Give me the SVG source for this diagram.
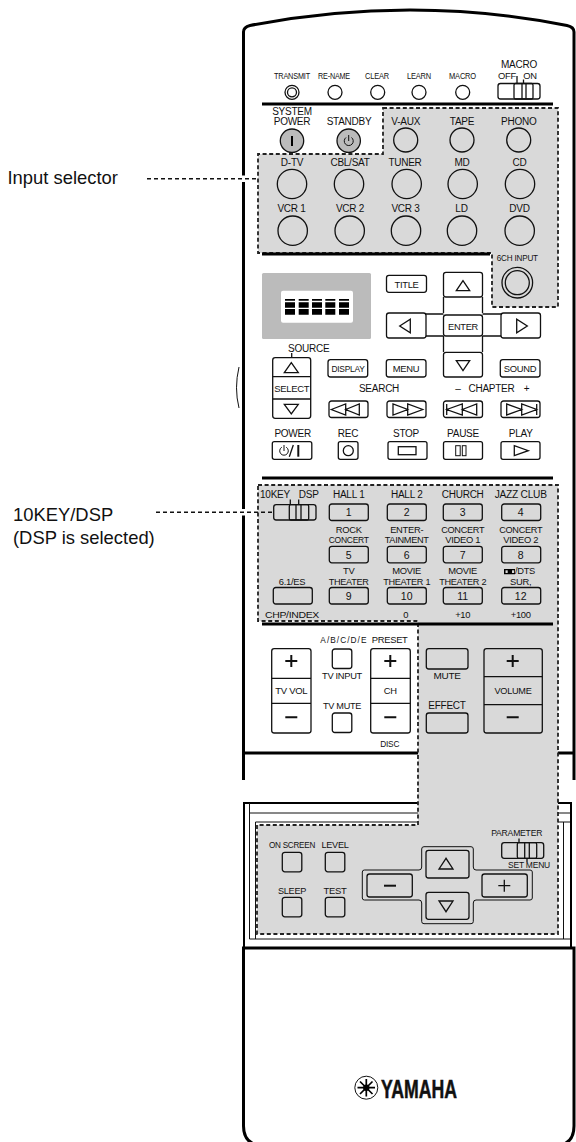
<svg xmlns="http://www.w3.org/2000/svg" width="576" height="1142" viewBox="0 0 576 1142">
<style>
text{font-family:"Liberation Sans",Arial,sans-serif;fill:#111;text-anchor:middle}
.a{font-size:10px;letter-spacing:-.25px}.b{font-size:9.4px;letter-spacing:-.3px}.c{font-size:8.3px;letter-spacing:-.2px}
.n{font-size:10.5px}
.l{font-size:18.4px;text-anchor:start}
.s{fill:none;stroke:#111;stroke-width:1.3}
.k{fill:none;stroke:#000;stroke-width:3}
.f{fill:none;stroke:#111;stroke-width:1}
.z{fill:#d9d9d9;stroke:#222;stroke-width:1.8;stroke-dasharray:4 2.600}
.d{fill:none;stroke:#111;stroke-width:1.500;stroke-dasharray:4 3}
.w{fill:#fff;stroke:none}
.h{fill:none;stroke:#111;stroke-width:2}
</style>
<defs>
<rect id="b39" class="s" width="39" height="16.500" rx="2.500"/>
<rect id="q20" class="s" width="19.500" height="19.500" rx="2.500"/>
<circle id="c12" class="s" r="12"/>
<circle id="c15" class="s" r="14.700"/>
<circle id="c7" class="s" r="7"/>
</defs>

<g id="body-outline">
<path class="k" d="M243.500,780V32Q243.500,27 250,25.500Q330,10 410,10Q490,10 567,25.500Q574,27 574,32V780"/>
<path class="k" d="M243.500,753H418M558,753H574"/>
<path d="M238,367Q233,388 238,408" class="f" transform="translate(1,0)"/>
<path class="k" d="M243.500,948V1126Q243.500,1140 254,1144M574,948V1126Q574,1140 564,1144M242,948H575.500"/>
<path class="k" style="stroke-width:2" d="M244,948V803H418M558,803H571V948"/>
<path class="f" d="M249.500,803V939M255.500,822V939M563.500,822V939M249.500,813H418M558,813H570M255.500,822H418M558,822H570M249.500,939H570"/>
</g>

<g id="gray-regions">
<path id="input-selector-region" class="z" d="M383,108H558V307H492V253H258V154H383Z"/>
<path id="dsp-region" class="z" d="M258,485H558V934H257V825H418V621H258Z"/>
</g>

<g id="separators">
<path class="k" d="M262,104H553M262,254H490M262,478H553M262,624H553"/>
</g>

<g id="indicators">
<g id="transmit"><text class="c" x="292" y="79" textLength="36" lengthAdjust="spacingAndGlyphs">TRANSMIT</text><circle class="s" cx="292" cy="92.300" r="7"/><circle class="s" cx="292" cy="92.300" r="4.500"/></g>
<g id="re-name"><text class="c" x="334" y="79" textLength="32" lengthAdjust="spacingAndGlyphs">RE-NAME</text><use href="#c7" x="335" y="92.300"/></g>
<g id="clear"><text class="c" x="377" y="79" textLength="24" lengthAdjust="spacingAndGlyphs">CLEAR</text><use href="#c7" x="377.700" y="92.300"/></g>
<g id="learn"><text class="c" x="419" y="79" textLength="24" lengthAdjust="spacingAndGlyphs">LEARN</text><use href="#c7" x="419" y="92.300"/></g>
<g id="macro"><text class="c" x="462.500" y="79" textLength="27" lengthAdjust="spacingAndGlyphs">MACRO</text><use href="#c7" x="462.700" y="92.300"/></g>
<g id="macro-switch"><text class="a" x="519" y="68">MACRO</text><text class="b" x="507" y="79">OFF</text><text class="b" x="530" y="79">ON</text>
<rect class="s" x="498" y="83.500" width="42" height="15.500" rx="2.500"/><rect class="s" x="514" y="83.500" width="19" height="15.500" rx="1.500"/><path class="s" d="M522,83.500V99M526,83.500V99M517,76V83.500M523.500,79.500V83.500"/></g>
</g>

<g id="power-row">
<g id="system-power"><text class="a" x="292" y="115">SYSTEM</text><text class="a" x="292" y="125">POWER</text><circle cx="292" cy="140.700" r="11.700" fill="#bbb" stroke="#111" stroke-width="1.300"/><rect x="291" y="136" width="2" height="10" fill="#000"/></g>
<g id="standby"><text class="a" x="349" y="125">STANDBY</text><circle cx="348.700" cy="140.700" r="11.700" fill="#bbb" stroke="#111" stroke-width="1.300"/><path class="f" d="M346,137.500A4.500,4.500 0 1 0 351.500,137.500M348.700,135V141"/></g>
</g>

<g id="input-row-1">
<g id="v-aux"><text class="a" x="405.700" y="125">V-AUX</text><use href="#c12" x="405.700" y="140"/></g>
<g id="tape"><text class="a" x="462" y="125">TAPE</text><use href="#c12" x="462" y="140"/></g>
<g id="phono"><text class="a" x="518.700" y="125">PHONO</text><use href="#c12" x="518.700" y="140"/></g>
</g>
<g id="input-row-2">
<g id="d-tv"><text class="a" x="292" y="166">D-TV</text><use href="#c15" x="292" y="184"/></g>
<g id="cbl-sat"><text class="a" x="350" y="166">CBL/SAT</text><use href="#c15" x="349" y="184"/></g>
<g id="tuner"><text class="a" x="405" y="166">TUNER</text><use href="#c15" x="406.700" y="184"/></g>
<g id="md"><text class="a" x="462" y="166">MD</text><use href="#c15" x="462.700" y="184"/></g>
<g id="cd"><text class="a" x="519.500" y="166">CD</text><use href="#c15" x="520" y="184"/></g>
</g>
<g id="input-row-3">
<g id="vcr1"><text class="a" x="291.500" y="212">VCR 1</text><use href="#c15" x="292.700" y="230.700"/></g>
<g id="vcr2"><text class="a" x="350" y="212">VCR 2</text><use href="#c15" x="349.700" y="230.700"/></g>
<g id="vcr3"><text class="a" x="405.500" y="212">VCR 3</text><use href="#c15" x="406" y="230.700"/></g>
<g id="ld"><text class="a" x="461.500" y="212">LD</text><use href="#c15" x="462" y="230.700"/></g>
<g id="dvd"><text class="a" x="519.500" y="212">DVD</text><use href="#c15" x="519.700" y="230.700"/></g>
</g>
<g id="six-ch-input"><text class="c" x="517.300" y="261" textLength="41" lengthAdjust="spacingAndGlyphs">6CH INPUT</text><circle class="s" cx="517.300" cy="282.700" r="15.300"/><circle class="s" cx="517.300" cy="282.700" r="12"/></g>

<g id="display">
<rect x="262" y="273" width="109" height="66" rx="1.500" fill="#bbb"/>
<rect x="281" y="290.700" width="72" height="32" rx="2" fill="#fff"/>
<path fill="#000" d="M285,299h10v1.700h-10zM298.700,299h10v1.700h-10zM312,299h10v1.700h-10zM325.300,299h10v1.700h-10zM339,299h10v1.700h-10zM285,302.300h10v5.400h-10zM298.700,302.300h10v5.400h-10zM312,302.300h10v5.400h-10zM325.300,302.300h10v5.400h-10zM339,302.300h10v5.400h-10zM285,309h10v5.700h-10zM298.700,309h10v5.700h-10zM312,309h10v5.700h-10zM325.300,309h10v5.700h-10zM339,309h10v5.700h-10z"/>
</g>

<g id="title-btn"><rect class="s" x="386.500" y="275.300" width="40" height="17" rx="2.500"/><text class="b" x="406.500" y="287.500">TITLE</text></g>
<g id="cursor-pad">
<path class="s" d="M443.500,297V313M482.500,297V313M443.500,336V352M482.500,336V352M426,314H443.500M426,336H443.500M482.500,314H501M482.500,336H501"/>
<g id="cursor-up"><rect class="s" x="443.500" y="272.300" width="39" height="24.700" rx="2.500"/><path class="s" d="M463,280.700L456.300,290.700H469.700Z"/></g>
<g id="cursor-left"><rect class="s" x="386.500" y="313" width="39.500" height="25" rx="2.500"/><path class="s" d="M399.700,326L410.300,319.300V332.700Z"/></g>
<g id="cursor-right"><rect class="s" x="501" y="313" width="39.500" height="25" rx="2.500"/><path class="s" d="M516.700,319.300V332.700L527.300,326Z"/></g>
<g id="enter"><rect class="s" x="443.500" y="315" width="39" height="21" rx="2.500"/><text class="b" x="463" y="329.500" textLength="30" lengthAdjust="spacingAndGlyphs">ENTER</text></g>
<g id="cursor-down"><rect class="s" x="443.500" y="352.300" width="39" height="24.700" rx="2.500"/><path class="s" d="M456.300,360.700H469.700L463,370.700Z"/></g>
</g>

<g id="source-select">
<text class="a" x="308.700" y="352">SOURCE</text><path class="s" d="M291.700,353V358"/>
<rect class="s" x="272.700" y="357.700" width="38" height="60.600" rx="2.500"/>
<path class="s" d="M272.700,376.700H310.700M272.700,399H310.700M284.300,372.700H298.300L291.300,362.700ZM284.300,404.300H298.300L291.300,414Z"/>
<text class="b" x="291.700" y="392" textLength="35" lengthAdjust="spacingAndGlyphs">SELECT</text>
</g>
<g id="display-btn"><rect class="s" x="328" y="359.700" width="39.700" height="17.300" rx="2.500"/><text class="b" x="348" y="372" textLength="33" lengthAdjust="spacingAndGlyphs">DISPLAY</text></g>
<g id="menu-btn"><rect class="s" x="386.300" y="359.700" width="39.700" height="17.300" rx="2.500"/><text class="b" x="406" y="372">MENU</text></g>
<g id="sound-btn"><rect class="s" x="500.300" y="359.700" width="39.700" height="17.300" rx="2.500"/><text class="b" x="520" y="372">SOUND</text></g>

<g id="search-chapter">
<text class="a" x="379" y="392">SEARCH</text>
<text class="a" x="458" y="392">–</text><text class="a" x="491.500" y="392">CHAPTER</text><text class="a" x="526.500" y="392">+</text>
<g id="search-back"><use href="#b39" x="329" y="401"/><path class="s" d="M331.300,409.500L345.700,404V415ZM345.700,409.500L359.300,404V415Z"/></g>
<g id="search-fwd"><use href="#b39" x="387" y="401"/><path class="s" d="M393,404V415L407.700,409.500ZM407.700,404V415L422.700,409.500Z"/></g>
<g id="chapter-back"><use href="#b39" x="443.500" y="401"/><path class="s" d="M446.700,404V415M446.700,409.500L462.300,404V415ZM462.300,409.500L476.700,404V415Z"/></g>
<g id="chapter-fwd"><use href="#b39" x="501" y="401"/><path class="s" d="M506.700,404V415L521.700,409.500ZM521.700,404V415L536.700,409.500ZM536.700,404V415"/></g>
</g>

<g id="transport">
<g id="power-btn"><text class="a" x="292.700" y="437">POWER</text><rect class="s" x="272.300" y="441.700" width="39.500" height="17.600" rx="2"/><path class="f" d="M281.800,447.200A4.300,4.300 0 1 0 286.200,447.200M284,445V451"/><path class="s" d="M293.300,445L289.300,456.700"/><path class="h" d="M298.300,445V456.700"/></g>
<g id="rec-btn"><text class="a" x="348" y="437">REC</text><rect class="s" x="338.300" y="441.700" width="19.700" height="17.600" rx="2"/><circle class="s" cx="348.300" cy="450.700" r="5"/></g>
<g id="stop-btn"><text class="a" x="406" y="437">STOP</text><rect class="s" x="388" y="441.700" width="39" height="17.600" rx="2"/><rect class="s" x="398.300" y="446.700" width="17.700" height="8"/></g>
<g id="pause-btn"><text class="a" x="463" y="437">PAUSE</text><rect class="s" x="443.500" y="441.700" width="39" height="17.600" rx="2"/><rect class="f" x="455.700" y="445.700" width="4.500" height="10"/><rect class="f" x="462.300" y="445.700" width="3.700" height="10"/></g>
<g id="play-btn"><text class="a" x="520.700" y="437">PLAY</text><rect class="s" x="501" y="441.700" width="39" height="17.600" rx="2"/><path class="s" d="M514.300,445.700V455.700L528.300,450.700Z"/></g>
</g>

<g id="dsp-keys">
<g id="tenkey-switch"><text class="a" x="275" y="498">10KEY</text><text class="a" x="308.700" y="498">DSP</text>
<rect class="s" x="273.700" y="504.700" width="42.300" height="15.300" rx="2.500"/><rect class="s" x="289.300" y="504.700" width="19.400" height="15.300" rx="1.500"/><path class="s" d="M296,504.700V520M301,504.700V520M290.300,499.500V504.700M298.700,499.500V504.700"/></g>
<g id="key1"><text class="a" x="348.700" y="498">HALL 1</text><use href="#b39" x="329.300" y="504"/><text class="n" x="348.700" y="516">1</text></g>
<g id="key2"><text class="a" x="406.700" y="498">HALL 2</text><use href="#b39" x="387.300" y="504"/><text class="n" x="406.700" y="516">2</text></g>
<g id="key3"><text class="a" x="462.700" y="498">CHURCH</text><use href="#b39" x="443.300" y="504"/><text class="n" x="462.700" y="516">3</text></g>
<g id="key4"><text class="a" x="520.700" y="498" textLength="52" lengthAdjust="spacingAndGlyphs">JAZZ CLUB</text><use href="#b39" x="501.700" y="504"/><text class="n" x="520.700" y="516">4</text></g>

<g id="key5"><text class="b" x="348.700" y="533">ROCK</text><text class="b" x="348.700" y="543" textLength="40" lengthAdjust="spacingAndGlyphs">CONCERT</text><use href="#b39" x="329.300" y="546.300"/><text class="n" x="348.700" y="559">5</text></g>
<g id="key6"><text class="b" x="406.700" y="533">ENTER-</text><text class="b" x="406.700" y="543" textLength="44" lengthAdjust="spacingAndGlyphs">TAINMENT</text><use href="#b39" x="387.300" y="546.300"/><text class="n" x="406.700" y="559">6</text></g>
<g id="key7"><text class="b" x="462.700" y="533" textLength="43" lengthAdjust="spacingAndGlyphs">CONCERT</text><text class="b" x="462.700" y="543">VIDEO 1</text><use href="#b39" x="443.300" y="546.300"/><text class="n" x="462.700" y="559">7</text></g>
<g id="key8"><text class="b" x="520.700" y="533" textLength="43" lengthAdjust="spacingAndGlyphs">CONCERT</text><text class="b" x="520.700" y="543">VIDEO 2</text><use href="#b39" x="501.700" y="546.300"/><text class="n" x="520.700" y="559">8</text></g>

<g id="six-one-es"><text class="b" x="292" y="584.500">6.1/ES</text><use href="#b39" x="273.300" y="587.500"/><text class="b" x="292" y="617.500" textLength="54" lengthAdjust="spacingAndGlyphs">CHP/INDEX</text></g>
<g id="key9"><text class="b" x="348.700" y="574">TV</text><text class="b" x="348.700" y="584.500" textLength="40" lengthAdjust="spacingAndGlyphs">THEATER</text><use href="#b39" x="329.300" y="587.500"/><text class="n" x="348.700" y="600">9</text></g>
<g id="key10"><text class="b" x="406.700" y="574">MOVIE</text><text class="b" x="406.700" y="584.500" textLength="47" lengthAdjust="spacingAndGlyphs">THEATER 1</text><use href="#b39" x="387.300" y="587.500"/><text class="n" x="406.700" y="600">10</text><text class="b" x="405.700" y="617.500">0</text></g>
<g id="key11"><text class="b" x="462.700" y="574">MOVIE</text><text class="b" x="462.700" y="584.500" textLength="47" lengthAdjust="spacingAndGlyphs">THEATER 2</text><use href="#b39" x="443.300" y="587.500"/><text class="n" x="462.700" y="600">11</text><text class="b" x="462.700" y="617.500">+10</text></g>
<g id="key12"><path d="M504,569h5.500v5.300h-5.500zM509.500,569h5.500v5.300h-5.500z" fill="#000"/><rect x="505.500" y="570.300" width="2.200" height="2.700" fill="#d9d9d9"/><rect x="512" y="570.300" width="2.200" height="2.700" fill="#d9d9d9"/><text class="b" x="525" y="574" textLength="20" lengthAdjust="spacingAndGlyphs">/DTS</text><text class="b" x="520.700" y="584.500">SUR,</text><use href="#b39" x="501.700" y="587.500"/><text class="n" x="520.700" y="600">12</text><text class="b" x="520.700" y="617.500">+100</text></g>
</g>

<g id="tv-controls">
<text class="c" x="343.300" y="642.700" textLength="46" lengthAdjust="spacing">A/B/C/D/E</text>
<text class="b" x="389.700" y="642.700">PRESET</text>
<g id="tv-vol"><rect class="s" x="271.700" y="648.700" width="39.300" height="84.300" rx="2.500"/><path class="s" d="M271.700,678.300H311M271.700,703.300H311"/><path class="h" d="M285.300,661H297.300M291.300,655V667M285.300,717.300H297.300"/><text class="b" x="291.300" y="694" textLength="32" lengthAdjust="spacingAndGlyphs">TV VOL</text></g>
<g id="tv-input"><use href="#q20" x="332.300" y="649"/><text class="b" x="342" y="679" textLength="40" lengthAdjust="spacingAndGlyphs">TV INPUT</text></g>
<g id="tv-mute"><text class="b" x="342" y="708.700" textLength="38" lengthAdjust="spacingAndGlyphs">TV MUTE</text><use href="#q20" x="332.300" y="713"/></g>
<g id="ch"><rect class="s" x="370.700" y="648.700" width="39.600" height="84.300" rx="2.500"/><path class="s" d="M370.700,678.300H410.300M370.700,703.300H410.300"/><path class="h" d="M384.300,661H396.300M390.300,655V667M384.300,717.300H396.300"/><text class="b" x="390.300" y="694">CH</text><text class="c" x="389.700" y="747">DISC</text></g>
<g id="mute"><rect class="s" x="426.300" y="648.700" width="41.700" height="20.300" rx="2.500"/><text class="b" x="447" y="679" textLength="27" lengthAdjust="spacingAndGlyphs">MUTE</text></g>
<g id="effect"><text class="a" x="447" y="708.700">EFFECT</text><rect class="s" x="426.300" y="713" width="41.700" height="20" rx="2.500"/></g>
<g id="volume"><rect class="s" x="484" y="648.700" width="58.300" height="84.300" rx="2.500"/><path class="s" d="M484,676.700H542.300M484,704.700H542.300"/><path class="h" d="M506.700,661H518.700M512.700,655V667M506.700,717.300H518.700"/><text class="b" x="513" y="694" textLength="37" lengthAdjust="spacingAndGlyphs">VOLUME</text></g>
</g>

<g id="panel-controls">
<g id="on-screen"><text class="b" x="292" y="848" textLength="46" lengthAdjust="spacingAndGlyphs">ON SCREEN</text><use href="#q20" x="282.300" y="852.300"/></g>
<g id="level"><text class="b" x="335" y="848" textLength="27" lengthAdjust="spacingAndGlyphs">LEVEL</text><use href="#q20" x="325.300" y="852.300"/></g>
<g id="sleep"><text class="b" x="292" y="894" textLength="28" lengthAdjust="spacingAndGlyphs">SLEEP</text><use href="#q20" x="282.300" y="897.300"/></g>
<g id="test"><text class="b" x="335" y="894" textLength="23" lengthAdjust="spacingAndGlyphs">TEST</text><use href="#q20" x="325.300" y="897.300"/></g>
<g id="parameter-pad">
<path class="f" d="M424,846.700H471Q473.300,846.700 473.300,849V867Q473.300,870 476,870H530Q532.300,870 532.300,872V898Q532.300,900 530,900H476Q473.300,900 473.300,903V921.500Q473.300,923.700 471,923.700H424Q421.700,923.700 421.700,921.500V903Q421.700,900 419,900H364.500Q362.300,900 362.300,898V872Q362.300,870 364.500,870H419Q421.700,870 421.700,867V849Q421.700,846.700 424,846.700Z"/>
<g id="param-up"><rect class="s" x="426" y="850.300" width="43" height="27.700" rx="2.500"/><path class="s" d="M446,858.300L439,869H453Z"/></g>
<g id="param-down"><rect class="s" x="426" y="892.300" width="43" height="27" rx="2.500"/><path class="s" d="M439,901H453L446,911.700Z"/></g>
<g id="param-minus"><rect class="s" x="367" y="874" width="45.300" height="23" rx="2.500"/><path class="h" d="M384,885.700H396"/></g>
<g id="param-plus"><rect class="s" x="482" y="874" width="45.300" height="23" rx="2.500"/><path class="s" d="M498.300,885.700H510.300M504.300,879.700V891.700"/></g>
</g>
<g id="parameter-switch"><text class="c" x="516.700" y="835.700" textLength="51" lengthAdjust="spacingAndGlyphs">PARAMETER</text><text class="c" x="529" y="868.300" textLength="42" lengthAdjust="spacingAndGlyphs">SET MENU</text>
<rect class="s" x="501.700" y="842.700" width="42" height="15.600" rx="2.500"/><rect class="s" x="517.300" y="842.700" width="19.400" height="15.600" rx="1.500"/><path class="s" d="M524.700,842.700V858.300M529.300,842.700V858.300M519,838.500V842.700M527,858.300V862"/></g>
</g>

<g id="logo">
<circle cx="366.300" cy="1087.700" r="11.500" fill="none" stroke="#111" stroke-width="1"/>
<path stroke="#000" stroke-width="1.700" fill="none" d="M366.300,1079V1096.500M357.500,1087.700H375M360,1081.500L372.500,1094M372.500,1081.500L360,1094"/>
<circle cx="366.300" cy="1087.700" r="3.200" fill="#000"/>
<text x="381" y="1097.500" style="text-anchor:start;font-size:25px;font-weight:700;stroke:#111;stroke-width:.5" textLength="76" lengthAdjust="spacingAndGlyphs">YAMAHA</text>
</g>

<g id="callouts">
<text class="l" x="7.500" y="184">Input selector</text>
<text class="l" x="13" y="520.700">10KEY/DSP</text>
<text class="l" x="13" y="544">(DSP is selected)</text>
</g>
<g id="connectors">
<rect class="w" x="241" y="175.500" width="5" height="6.500"/>
<rect class="w" x="241" y="509" width="5" height="6.500"/>
<path class="d" d="M147,178.700H258"/>
<path class="d" d="M156,512.300H273"/>
</g>
</svg>
